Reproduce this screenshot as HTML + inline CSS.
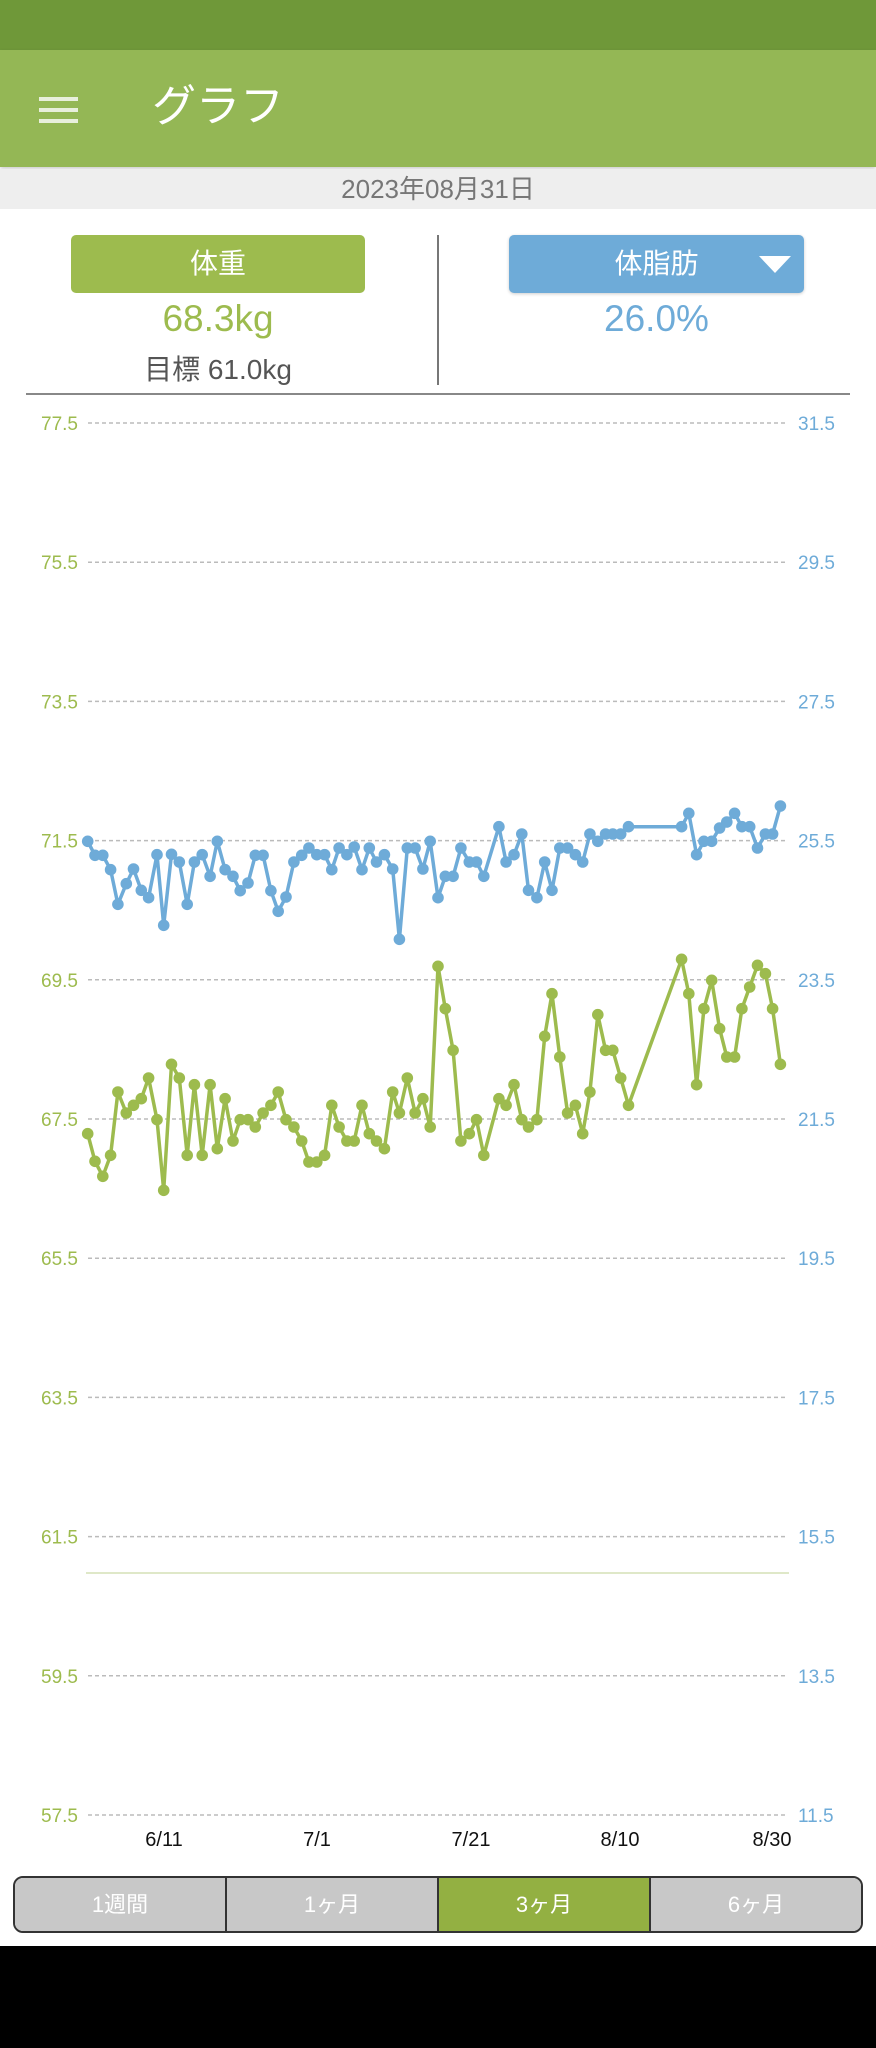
<!DOCTYPE html>
<html><head><meta charset="utf-8"><style>
*{margin:0;padding:0;box-sizing:border-box}
body{width:876px;height:2048px;background:#fff;position:relative;overflow:hidden;font-family:"Liberation Sans","Noto Sans CJK JP",sans-serif}
.abs{position:absolute}
</style></head><body>
<div class="abs" style="left:0;top:0;width:876px;height:50px;background:#6f9839"></div>
<div class="abs" style="left:0;top:50px;width:876px;height:117px;background:#94b755;box-shadow:0 2px 4px rgba(0,0,0,.2)"></div>
<div class="abs" style="left:39px;top:97px;width:39px;height:4px;background:#e8efdc"></div>
<div class="abs" style="left:39px;top:108px;width:39px;height:4px;background:#e8efdc"></div>
<div class="abs" style="left:39px;top:119px;width:39px;height:4px;background:#e8efdc"></div>
<div class="abs" style="left:152px;top:80px;font-size:44px;color:#fff;line-height:54px">グラフ</div>
<div class="abs" style="left:0;top:169px;width:876px;height:40px;background:#eeeeee;text-align:center;font-size:26px;line-height:40px;color:#777">2023年08月31日</div>
<div class="abs" style="left:71px;top:235px;width:294px;height:58px;background:#9dbb4e;border-radius:5px;color:#fff;font-size:28px;text-align:center;line-height:58px">体重</div>
<div class="abs" style="left:509px;top:235px;width:295px;height:58px;background:#6eabd8;border-radius:5px;color:#fff;font-size:28px;text-align:center;line-height:58px;box-shadow:0 1px 3px rgba(0,0,0,.2)">体脂肪</div>
<div class="abs" style="left:759px;top:256px;width:0;height:0;border-left:16px solid transparent;border-right:16px solid transparent;border-top:17px solid #fff"></div>
<div class="abs" style="left:71px;top:298px;width:294px;text-align:center;font-size:37px;color:#9dbb4e">68.3kg</div>
<div class="abs" style="left:509px;top:298px;width:295px;text-align:center;font-size:37px;color:#6eabd8">26.0%</div>
<div class="abs" style="left:71px;top:348px;width:294px;text-align:center;font-size:28px;color:#555">目標 61.0kg</div>
<div class="abs" style="left:437px;top:235px;width:2px;height:150px;background:#777"></div>
<div class="abs" style="left:26px;top:393px;width:824px;height:2px;background:#888"></div>
<svg id="c" class="abs" style="left:0;top:0" width="876" height="2048"></svg>
<div class="abs" style="left:13px;top:1876px;width:850px;height:57px;border:2px solid #333;border-radius:10px;overflow:hidden;display:flex;font-size:22px;color:#fff">
<div style="flex:1;background:#c8c8c8;text-align:center;line-height:53px;border-right:2px solid #333">1週間</div>
<div style="flex:1;background:#c8c8c8;text-align:center;line-height:53px;border-right:2px solid #333">1ヶ月</div>
<div style="flex:1;background:#93b042;text-align:center;line-height:53px;border-right:2px solid #333">3ヶ月</div>
<div style="flex:1;background:#c8c8c8;text-align:center;line-height:53px">6ヶ月</div>
</div>
<div class="abs" style="left:0;top:1946px;width:876px;height:102px;background:#000"></div>
<script>
var s='';
var L=['77.5','75.5','73.5','71.5','69.5','67.5','65.5','63.5','61.5','59.5','57.5'];
var R=['31.5','29.5','27.5','25.5','23.5','21.5','19.5','17.5','15.5','13.5','11.5'];
for(var k=0;k<11;k++){var y=423+k*139.2;
s+='<line x1="88" x2="788" y1="'+y+'" y2="'+y+'" stroke="#bbb" stroke-width="1.5" stroke-dasharray="4,3"/>';
s+='<text x="78" y="'+(y+7)+'" text-anchor="end" font-size="19" fill="#9dbb4e" font-family="Liberation Sans">'+L[k]+'</text>';
s+='<text x="798" y="'+(y+7)+'" font-size="19" fill="#6eabd8" font-family="Liberation Sans">'+R[k]+'</text>';}
s+='<line x1="86" x2="789" y1="1573" y2="1573" stroke="#dfe8c8" stroke-width="2"/>';
var X=[['6/11',164],['7/1',317],['7/21',471],['8/10',620],['8/30',772]];
X.forEach(function(a){s+='<text x="'+a[1]+'" y="1846" text-anchor="middle" font-size="20" fill="#111" font-family="Liberation Sans">'+a[0]+'</text>';});
var B=[157,128,170,170,184,170,198,213,211,317,226,255,239,211,253,275,266,297,281,168,293,380,307,167,321,190,335,317,348,190,362,168,376,233,389,128,403,213,417,233,430,276,444,253,457,170,471,170,485,276,498,338,512,295,526,190,540,170,553,148,567,168,581,168,594,213,607,148,621,168,634,145,648,213,661,148,674,190,688,168,703,211,715,422,729,148,743,148,757,211,770,128,784,297,797,233,811,233,825,148,840,190,853,190,866,233,893,84,906,190,920,168,934,106,946,275,961,297,975,190,988,275,1002,148,1016,148,1030,168,1043,190,1056,106,1070,128,1084,106,1097,106,1111,106,1125,84,1220,84,1233,44,1247,168,1260,128,1274,128,1288,88,1301,70,1315,44,1328,84,1342,84,1356,148,1370,106,1383,106,1397,22];
var G=[157,1005,170,1088,184,1133,198,1070,211,880,226,943,239,920,253,900,266,838,281,963,293,1175,307,797,321,838,335,1070,348,858,362,1070,376,858,389,1050,403,900,417,1027,430,963,444,963,457,985,471,943,485,920,498,880,512,963,526,985,540,1027,553,1090,567,1090,581,1070,594,920,607,985,621,1027,634,1027,648,920,661,1005,674,1027,688,1050,703,880,715,943,729,838,743,943,757,900,770,985,784,503,797,630,811,755,825,1027,840,1005,853,963,866,1070,893,900,906,920,920,858,934,963,946,985,961,963,975,713,988,585,1002,775,1016,943,1030,920,1043,1005,1056,880,1070,648,1084,755,1097,755,1111,838,1125,920,1220,482,1233,585,1247,858,1260,630,1274,545,1288,690,1301,775,1315,775,1328,630,1342,565,1356,500,1370,525,1383,630,1397,797];
function ser(A,c){var p=[],d='';for(var i=0;i<A.length;i+=2){var x=(A[i]/1.79).toFixed(1),y=(800+(A[i+1]-4)/3).toFixed(1);p.push(x+','+y);d+='<circle cx="'+x+'" cy="'+y+'" r="5.8" fill="'+c+'"/>';}
return '<polyline points="'+p.join(' ')+'" fill="none" stroke="'+c+'" stroke-width="3.5" stroke-linejoin="round"/>'+d;}
s+=ser(B,'#6eabd8')+ser(G,'#9dbb4e');
document.getElementById('c').innerHTML=s;
</script>
</body></html>
